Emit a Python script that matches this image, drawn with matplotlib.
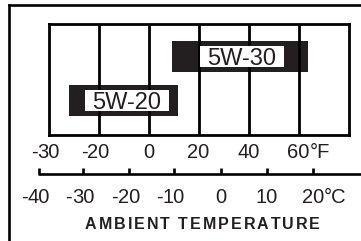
import matplotlib
matplotlib.use('Agg')
import matplotlib.pyplot as plt
from matplotlib.patches import Rectangle
from matplotlib.font_manager import FontProperties
from matplotlib.textpath import TextToPath

plt.rcParams['font.family'] = ['Liberation Sans', 'DejaVu Sans']

# Fahrenheit scale (one grid column per label)
f_labels = ['-30', '-20', '0', '20', '40', '60']
f_pos = [0, 1, 2, 3, 4, 5]
n_cols = 6

# Celsius scale, positions in grid-column units
c_labels = ['-40', '-30', '-20', '-10', '0', '10', '20']
c_pos = [-0.19, 0.69, 1.61, 2.51, 3.45, 4.37, 5.29]

# oil ranges (column units) and their rows
oils = ['5W-20', '5W-30']
oil_start = [0.41, 2.47]
oil_end = [2.59, 5.19]
oil_bottom = [0.167, 0.566]
oil_top = [0.448, 0.846]
label_x = [1.57, 3.87]

ink = '#231f20'
W, H = 361, 241
fig = plt.figure(figsize=(W / 100, H / 100), dpi=100)
# grid box placed in pixels: x 48.5..348.5, y 24..134.5 from top
ax = fig.add_axes([48.5 / W, (H - 134.5) / H, 300 / W, 110.5 / H])
ax.set_xlim(0, n_cols)
ax.set_ylim(0, 1)
ax.set_xticks([])
ax.set_yticks([])
for s in ax.spines.values():
    s.set_linewidth(2)
    s.set_color('black')

ax.vlines(range(1, n_cols), 0, 1, colors='black', linewidth=2, zorder=2)

for name, x0, x1, y0, y1, lx in zip(oils, oil_start, oil_end, oil_bottom, oil_top, label_x):
    ax.add_patch(Rectangle((x0, y0), x1 - x0, y1 - y0, facecolor=ink,
                           edgecolor='none', zorder=1))
    yc = (y0 + y1) / 2
    bw, bh = 1.67, 0.19
    ax.add_patch(Rectangle((lx - bw / 2, yc - bh / 2), bw, bh,
                           facecolor='white', edgecolor='none', zorder=3))
    ax.text(lx, yc, name, ha='center', va='center_baseline', fontsize=17,
            color=ink, zorder=4)

num_size = 14.5


def scale_label(x, y, lab, unit):
    num = lab.lstrip('-')
    t = ax.text(x, y, num, ha='center', va='baseline', fontsize=num_size,
                color=ink, clip_on=False)
    if lab.startswith('-'):
        ax.annotate('-', xy=(0, 0), xycoords=t, ha='right', va='bottom',
                    fontsize=num_size, color=ink, annotation_clip=False)
    if unit:
        ax.annotate(unit, xy=(1, 0), xycoords=t, ha='left', va='bottom',
                    fontsize=num_size, color=ink, annotation_clip=False)


for i, (p, lab) in enumerate(zip(f_pos, f_labels)):
    scale_label(p, -0.21, lab, '°F' if i == len(f_labels) - 1 else '')

# Celsius axis line with upward ticks
y_axis = -0.357
ax.plot([c_pos[0] - 0.02, 6.4], [y_axis, y_axis], color='black', lw=1.9,
        clip_on=False, solid_capstyle='butt')
for p in c_pos:
    ax.plot([p, p], [y_axis, -0.305], color='black', lw=1.9, clip_on=False,
            solid_capstyle='butt')
for i, (p, lab) in enumerate(zip(c_pos, c_labels)):
    scale_label(p, -0.62, lab, '°C' if i == len(c_labels) - 1 else '')

# outer frame (top and left edges)
ax.plot([-0.794, 6.5], [1.172, 1.172], color='black', lw=1.9, clip_on=False,
        solid_capstyle='projecting')
ax.plot([-0.794, -0.794], [1.172, -1.2], color='black', lw=1.9, clip_on=False,
        solid_capstyle='projecting')

# letter-spaced title
title = 'AMBIENT TEMPERATURE'
fp = FontProperties(family='Liberation Sans', weight='bold', size=11.5)
ttp = TextToPath()
adv = [ttp.get_text_width_height_descent(ch, fp, ismath=False)[0] * 100 / 72
       for ch in title]
span = 235
track = (span - sum(adv)) / (len(title) - 1)
x = 202.5 - span / 2
for ch, a in zip(title, adv):
    fig.text(x / W, (H - 229.3) / H, ch, fontproperties=fp, color=ink,
             ha='left', va='baseline')
    x += a + track

fig.savefig('out.png', dpi=100)
